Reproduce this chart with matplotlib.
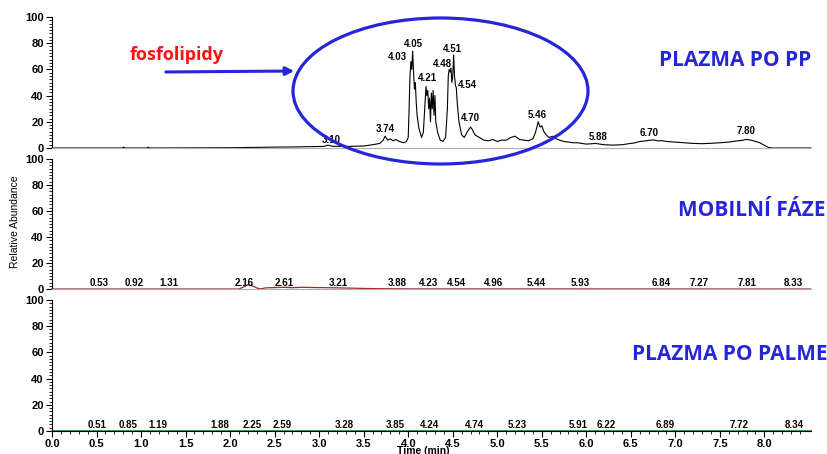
import matplotlib.pyplot as plt
from matplotlib.patches import Ellipse
from matplotlib.ticker import MultipleLocator, FixedLocator

plt.rcParams['font.family'] = ['Liberation Sans', 'DejaVu Sans']

# chromatogram PLAZMA PO PP (cas v min, relativni abundance v %)
pp_cas = [0.0, 0.5, 0.79, 0.8, 0.82, 1.06, 1.08, 1.1, 1.5, 2.0, 2.3, 2.5, 2.7, 2.9,
          3.05, 3.1, 3.15, 3.3, 3.5, 3.6, 3.68, 3.72, 3.74, 3.77, 3.8, 3.83, 3.86,
          3.9, 3.95, 3.98, 4.0, 4.01, 4.02, 4.03, 4.04, 4.05, 4.06, 4.07, 4.08, 4.09,
          4.1, 4.12, 4.15, 4.17, 4.19, 4.2, 4.21, 4.22, 4.23, 4.24, 4.25, 4.26, 4.27,
          4.28, 4.29, 4.3, 4.31, 4.33, 4.36, 4.39, 4.42, 4.44, 4.45, 4.46, 4.47, 4.48,
          4.49, 4.5, 4.51, 4.52, 4.53, 4.54, 4.55, 4.57, 4.6, 4.63, 4.66, 4.7, 4.72,
          4.75, 4.8, 4.85, 4.9, 4.95, 5.0, 5.05, 5.1, 5.15, 5.2, 5.25, 5.3, 5.35, 5.4,
          5.43, 5.46, 5.48, 5.5, 5.52, 5.55, 5.58, 5.62, 5.66, 5.7, 5.75, 5.8, 5.85,
          5.9, 5.95, 6.0, 6.05, 6.1, 6.15, 6.2, 6.3, 6.4, 6.5, 6.55, 6.6, 6.65, 6.7,
          6.75, 6.8, 6.85, 6.9, 7.0, 7.1, 7.2, 7.3, 7.4, 7.5, 7.6, 7.65, 7.7, 7.75,
          7.8, 7.85, 7.9, 7.95, 8.0, 8.05, 8.1, 8.52]
pp_int = [0.0, 0.0, 0.0, 0.7, 0.0, 0.0, 0.6, 0.0, 0.1, 0.2, 0.5, 0.7, 0.8, 1.0,
          1.2, 2.2, 1.3, 1.2, 1.5, 2.5, 3.5, 6.0, 9.0, 6.0, 7.0, 5.5, 6.5,
          5.0, 4.0, 5.0, 8.0, 30.0, 55.0, 66.0, 60.0, 74.0, 58.0, 45.0, 50.0, 35.0,
          25.0, 15.0, 8.0, 12.0, 35.0, 47.0, 40.0, 44.0, 30.0, 38.0, 20.0, 42.0, 30.0,
          44.0, 25.0, 40.0, 20.0, 12.0, 6.0, 5.0, 8.0, 30.0, 55.0, 60.0, 58.0, 61.0,
          50.0, 55.0, 71.0, 55.0, 48.0, 46.0, 35.0, 20.0, 10.0, 8.0, 12.0, 16.0, 14.0,
          10.0, 8.0, 6.0, 5.5, 6.5, 5.0, 6.0, 6.0, 8.0, 9.0, 6.5, 6.0, 5.5, 7.0,
          12.0, 20.0, 16.0, 17.0, 13.0, 10.0, 8.0, 9.0, 7.0, 6.0, 5.0, 4.5, 4.0,
          4.0, 3.5, 3.0, 3.2, 3.5, 3.0, 2.5, 2.2, 2.5, 3.5, 4.0, 5.0, 5.3, 5.8,
          6.2, 5.5, 5.6, 5.0, 4.5, 4.0, 3.5, 3.3, 3.6, 4.0, 4.5, 5.0, 5.5, 5.8,
          6.6, 6.0, 5.0, 4.0, 2.0, 0.3, 0.0, 0.0]
pp_popisky = ['3.10', '3.74', '4.03', '4.05', '4.21', '4.48', '4.51', '4.54',
              '4.70', '5.46', '5.88', '6.70', '7.80']
pp_popisky_x = [3.13, 3.74, 3.88, 4.06, 4.22, 4.38, 4.50, 4.67, 4.70, 5.45, 6.13, 6.71, 7.79]
pp_popisky_y = [2.0, 10.5, 66.0, 75.5, 50.0, 60.0, 71.5, 44.5, 19.0, 21.0, 4.5, 8.0, 9.5]

# chromatogram MOBILNI FAZE
mf_cas = [0.0, 2.1, 2.15, 2.2, 2.25, 2.3, 2.34, 2.4, 2.5, 2.6, 2.7, 2.8, 2.9, 3.0,
          3.2, 3.4, 3.6, 3.8, 4.0, 5.0, 8.52]
mf_int = [0.0, 0.0, 1.5, 3.3, 2.5, 0.8, 0.1, 0.9, 1.1, 1.3, 1.0, 1.3, 1.2, 1.1,
          0.9, 0.6, 0.3, 0.2, 0.1, 0.1, 0.0]
mf_popisky = ['0.53', '0.92', '1.31', '2.16', '2.61', '3.21', '3.88', '4.23', '4.54',
              '4.96', '5.44', '5.93', '6.84', '7.27', '7.81', '8.33']

# chromatogram PLAZMA PO PALME
pa_cas = [0.0, 8.52]
pa_int = [0.0, 0.0]
pa_popisky = ['0.51', '0.85', '1.19', '1.88', '2.25', '2.59', '3.28', '3.85', '4.24',
              '4.74', '5.23', '5.91', '6.22', '6.89', '7.72', '8.34']

x_hlavni = [i * 0.5 for i in range(17)]
x_vedlejsi = [i * 0.1 for i in range(85)]

modra = '#2626d9'

fig = plt.figure(figsize=(8.27, 4.54), dpi=100)
left, width = 0.0629, 0.9174
ax1 = fig.add_axes([left, 0.674, width, 0.2885])
ax2 = fig.add_axes([left, 0.3634, width, 0.2864])
ax3 = fig.add_axes([left, 0.0507, width, 0.2885])

for ax in (ax1, ax2, ax3):
    ax.set_xlim(0, 8.52)
    ax.set_ylim(0, 100)
    ax.spines['top'].set_visible(False)
    ax.spines['right'].set_visible(False)
    ax.spines['left'].set_linewidth(0.8)
    ax.yaxis.set_major_locator(MultipleLocator(20))
    ax.yaxis.set_minor_locator(MultipleLocator(2.5))
    ax.xaxis.set_major_locator(FixedLocator(x_hlavni))
    ax.xaxis.set_minor_locator(FixedLocator(x_vedlejsi))
    ax.tick_params(axis='both', which='major', length=4, width=0.8, labelsize=8, pad=2)
    ax.tick_params(axis='both', which='minor', length=2, width=0.6)
    for lab in ax.get_yticklabels():
        lab.set_fontweight('bold')

for ax in (ax1, ax2):
    ax.spines['bottom'].set_color('#b0b0b0')
    ax.tick_params(axis='x', which='both', bottom=False, labelbottom=False)

ax3.xaxis.set_major_formatter(plt.FormatStrFormatter('%.1f'))
for lab in ax3.get_xticklabels():
    lab.set_fontweight('bold')

ax1.plot(pp_cas, pp_int, color='black', lw=0.8, clip_on=False)
for s, x, y in zip(pp_popisky, pp_popisky_x, pp_popisky_y):
    ax1.text(x, y, s, ha='center', va='bottom', fontsize=7, fontweight='bold')

ax2.plot(mf_cas, mf_int, color='#a02828', lw=0.9, clip_on=False)
for s in mf_popisky:
    ax2.text(float(s), 0.8, s, ha='center', va='bottom', fontsize=7, fontweight='bold')

ax3.plot(pa_cas, pa_int, color='#2e8b2e', lw=1.2, clip_on=False)
for s in pa_popisky:
    ax3.text(float(s), 0.8, s, ha='center', va='bottom', fontsize=7, fontweight='bold')

fig.text(15 / 827, 1 - 222 / 454, 'Relative Abundance', rotation=90, ha='center',
         va='center', fontsize=7.5)
fig.text(423 / 827, 1 - 451.5 / 454, 'Time (min)', ha='center', va='center',
         fontsize=7.5, fontweight='bold')

# anotace
elipsa = Ellipse((440.5 / 827, 1 - 91 / 454), 295 / 827, 146 / 454,
                 transform=fig.transFigure, fill=False, ec=modra, lw=2.3)
fig.add_artist(elipsa)
ax1.annotate('', xy=(297 / 827, 1 - 71 / 454), xycoords='figure fraction',
             xytext=(163 / 827, 1 - 72 / 454), textcoords='figure fraction',
             arrowprops=dict(arrowstyle='-|>', color=modra, lw=2.2, mutation_scale=12),
             annotation_clip=False)
fig.text(177 / 827, 1 - 55 / 454, 'fosfolipidy', color='#ff1010', fontsize=13,
         fontweight='bold', family='Open Sans', ha='center', va='center')
fig.text(735.5 / 827, 1 - 60 / 454, 'PLAZMA PO PP', color=modra, fontsize=15,
         fontweight='bold', family='Open Sans', ha='center', va='center')
fig.text(752 / 827, 1 - 210 / 454, 'MOBILNÍ FÁZE', color=modra, fontsize=15,
         fontweight='bold', family='Open Sans', ha='center', va='center')
fig.text(729.5 / 827, 1 - 355 / 454, 'PLAZMA PO PALME', color=modra, fontsize=15,
         fontweight='bold', family='Open Sans', ha='center', va='center')

fig.savefig('out.png', dpi=100)
